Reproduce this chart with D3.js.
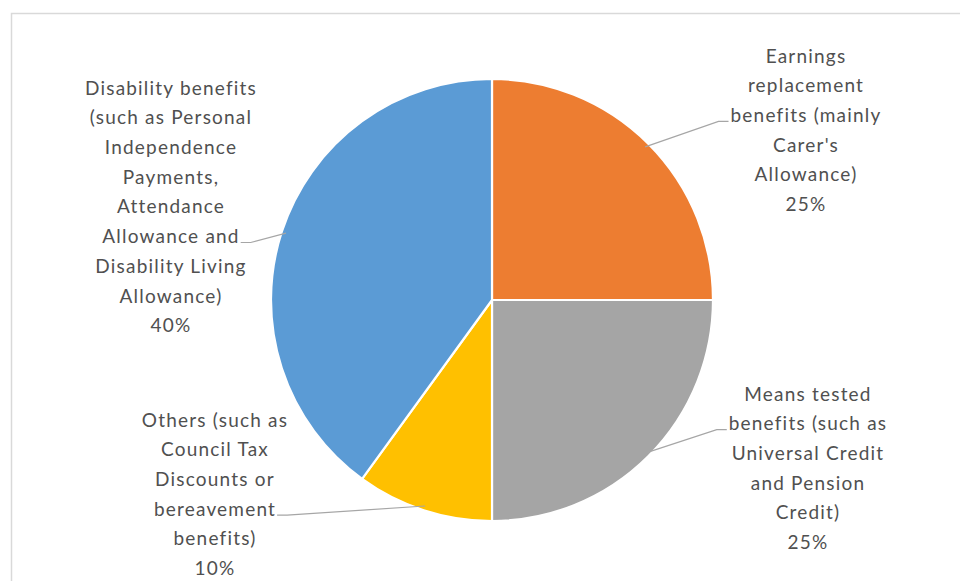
<!DOCTYPE html>
<html>
<head>
<meta charset="utf-8">
<script src="https://cdn.jsdelivr.net/npm/d3@7"></script>
<style>
  html, body { margin: 0; padding: 0; background: #ffffff; }
  svg { display: block; }
  .lbl { font-family: Lato, "Open Sans", sans-serif; font-size: 19px; fill: #505050; letter-spacing: 1.2px; }
</style>
</head>
<body>
<svg id="chart" width="960" height="581"></svg>
<script>
// Benefit categories, clockwise from 12 o'clock
const categories = [
  "Earnings replacement benefits",
  "Means tested benefits",
  "Others",
  "Disability benefits"
];
const values = [25, 25, 10, 40];
const colors = ["#ED7D31", "#A5A5A5", "#FFC000", "#5B9BD5"];
const labelLines = [
  ["Earnings", "replacement", "benefits (mainly", "Carer's", "Allowance)"],
  ["Means tested", "benefits (such as", "Universal Credit", "and Pension", "Credit)"],
  ["Others (such as", "Council Tax", "Discounts or", "bereavement", "benefits)"],
  ["Disability benefits", "(such as Personal", "Independence", "Payments,", "Attendance", "Allowance and", "Disability Living", "Allowance)"]
];

// Label block placement: centre x, first-line centre y, the line the leader attaches to
const labelLayout = [
  { cx: 806, y0: 56,  hook: 2, side: "left" },
  { cx: 808, y0: 394, hook: 1, side: "left" },
  { cx: 215, y0: 420, hook: 3, side: "right" },
  { cx: 171, y0: 88,  hook: 5, side: "right" }
];
const lineStep = 29.7;

const W = 960, H = 581;
const cx = 492, cy = 300, R = 221;
const svg = d3.select("#chart");

// chart area frame
svg.append("rect")
  .attr("x", 11.5).attr("y", 13.5)
  .attr("width", W + 20).attr("height", H + 20)
  .attr("fill", "none").attr("stroke", "#d9d9d9").attr("stroke-width", 1.5);

const pie = d3.pie().sort(null).value(d => d);
const arcs = pie(values);
const arc = d3.arc().innerRadius(0).outerRadius(R);

const g = svg.append("g").attr("transform", `translate(${cx},${cy})`);
g.selectAll("path.slice")
  .data(arcs)
  .join("path")
  .attr("class", "slice")
  .attr("d", arc)
  .attr("fill", (d, i) => colors[i])
  .attr("stroke", "#ffffff")
  .attr("stroke-width", 2.2)
  .attr("stroke-linejoin", "round");

const total = d3.sum(values);
const fmt = d3.format(".0%");

arcs.forEach((a, i) => {
  const lay = labelLayout[i];
  const lines = labelLines[i].concat([fmt(values[i] / total)]);
  const text = svg.append("text")
    .attr("class", "lbl")
    .attr("text-anchor", "middle");
  lines.forEach((ln, k) => {
    text.append("tspan")
      .attr("x", lay.cx)
      .attr("y", lay.y0 + k * lineStep)
      .attr("dy", "0.35em")
      .text(ln);
  });

  // leader line: from the hooked line's edge to the slice's outer arc midpoint
  const hookNode = text.selectAll("tspan").nodes()[lay.hook];
  const w = hookNode.getComputedTextLength();
  const hy = lay.y0 + lay.hook * lineStep + 6;
  const hx = lay.side === "left" ? lay.cx - w / 2 - 2 : lay.cx + w / 2 + 1;
  const mid = (a.startAngle + a.endAngle) / 2;
  const ex = cx + R * 0.98 * Math.sin(mid);
  const ey = cy - R * 0.98 * Math.cos(mid);
  const stub = lay.side === "left" ? hx - 10 : hx + 10;
  svg.append("path")
    .attr("d", `M${hx},${hy} L${stub},${hy} L${ex},${ey}`)
    .attr("fill", "none")
    .attr("stroke", "#a6a6a6")
    .attr("stroke-width", 1.2);
});
</script>
</body>
</html>
